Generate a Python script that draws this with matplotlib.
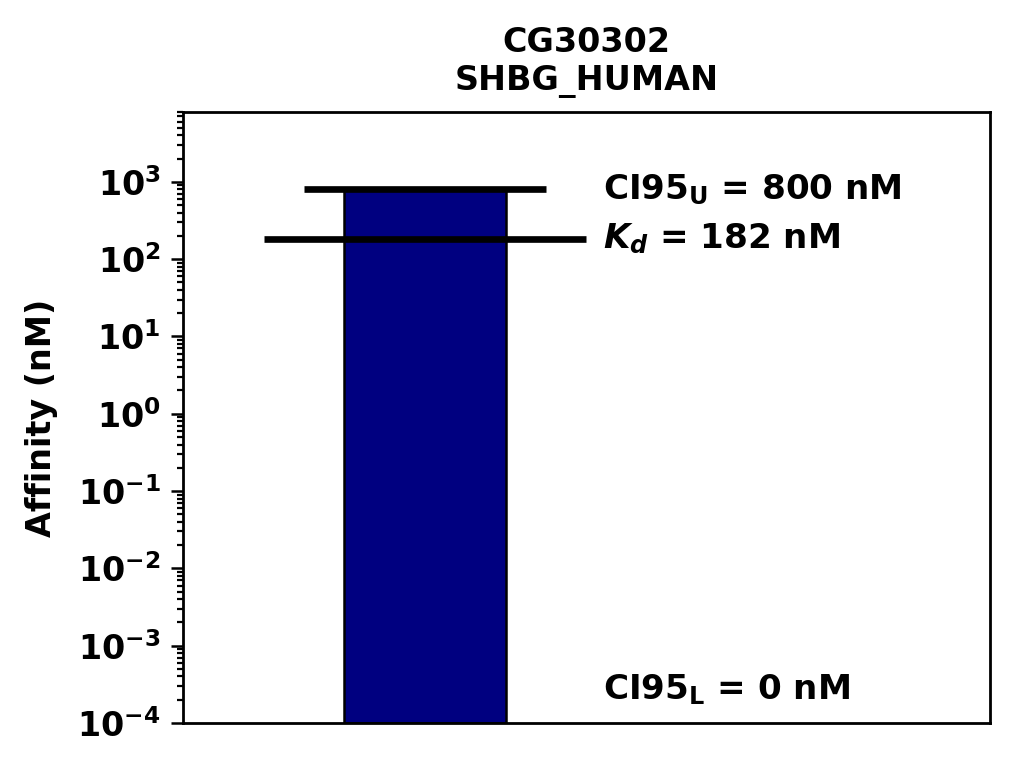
import numpy as np
import matplotlib
matplotlib.use('Agg')
import matplotlib.pyplot as plt
import matplotlib.transforms as mtransforms

# Values
compound = 'CG30302'
target = 'SHBG_HUMAN'
kd = 182
ci95_upper = 800
ci95_lower = 0

plt.rcParams['font.weight'] = 'bold'
plt.rcParams['font.size'] = 12
plt.rcParams['mathtext.fontset'] = 'custom'
plt.rcParams['mathtext.rm'] = 'DejaVu Sans:bold'
plt.rcParams['mathtext.it'] = 'DejaVu Sans:italic:bold'
plt.rcParams['mathtext.bf'] = 'DejaVu Sans:bold'
plt.rcParams['mathtext.default'] = 'rm'
plt.rcParams['axes.linewidth'] = 1.0

fig = plt.figure(figsize=(5.07, 3.84), dpi=200, facecolor='w')
ax = fig.add_axes([0.1805, 0.0586, 0.7958, 0.7956])

# bar spans up to the upper confidence bound
ax.bar(0.3, ci95_upper, width=0.2, bottom=1e-4, color='navy',
       edgecolor='black', linewidth=0.9, zorder=2)
ax.hlines(ci95_upper, 0.15, 0.45, colors='black', linewidth=2.4, zorder=3)
ax.hlines(kd, 0.1, 0.5, colors='black', linewidth=2.4, zorder=3)

ax.set_yscale('log')
ax.set_xlim(0, 1)
ax.set_ylim(1e-4, 8000)
ax.set_xticks([])
ax.tick_params(axis='y', which='major', length=4.5, width=0.9)
ax.tick_params(axis='y', which='minor', width=0.8)

ax.text(0.52, ci95_upper, r'CI95$_\mathrm{U}$ = ' + str(ci95_upper) + ' nM',
        va='center', ha='left', fontweight='bold', fontsize=12.3)
ax.text(0.52, kd, r'$\mathit{K_d}$ = ' + str(kd) + ' nM',
        va='center', ha='left', fontweight='bold', fontsize=12.3)
trans = mtransforms.blended_transform_factory(ax.transData, ax.transAxes)
ax.text(0.52, 0.055, r'CI95$_\mathrm{L}$ = ' + str(ci95_lower) + ' nM',
        va='center', ha='left', fontweight='bold', fontsize=12.3, transform=trans)

ax.set_ylabel('Affinity (nM)', fontweight='bold', labelpad=7)
ax.set_title(compound + '\n' + target, fontweight='bold', fontsize=12, pad=8)

plt.savefig('out.png', dpi=200)
